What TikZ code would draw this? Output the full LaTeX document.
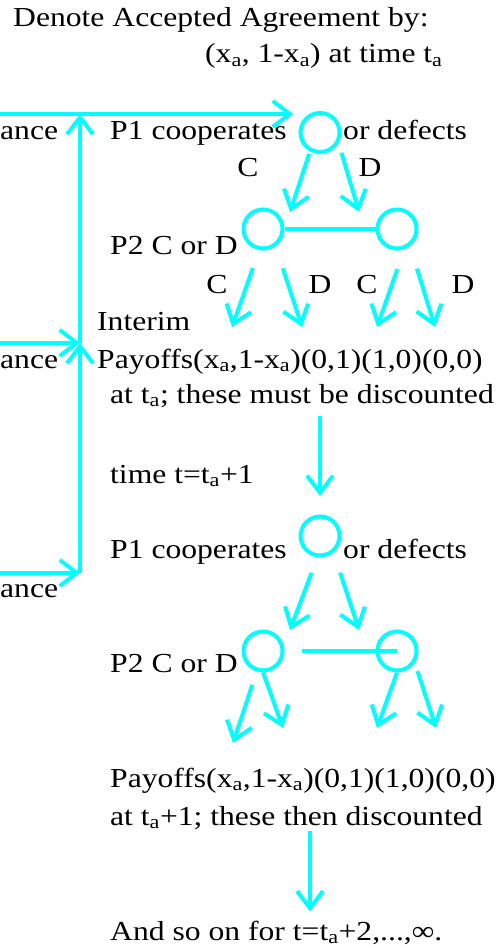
\documentclass[tikz,border=0pt]{standalone}
\usepackage{fontspec}
\setmainfont{Liberation Serif}[FakeStretch=1.15]
\usetikzlibrary{arrows.meta, positioning}
\definecolor{flowCyan}{RGB}{0,255,255}

\begin{document}
\begin{tikzpicture}[x=1pt, y=-1pt,
    pnode/.style={circle, draw=flowCyan, line width=4pt, minimum size=39pt, inner sep=0pt},
    arr/.style={-{Straight Barb[length=17pt, width=26pt]}, line width=4pt, flowCyan},
    lnk/.style={line width=4pt, flowCyan},
    txt/.style={anchor=base west, inner sep=0pt, font=\fontsize{27.5}{33}\selectfont},
    lbl/.style={anchor=base, inner sep=0pt, font=\fontsize{27.5}{33}\selectfont},
]
\useasboundingbox (0,0) rectangle (502,949);

% ========== HEADING ==========
\node[txt] (title) at (13,27) {Denote Accepted Agreement by:};
\node[txt] (agree) at (205,63) {(x\textsubscript{a}, 1-x\textsubscript{a}) at time t\textsubscript{a}};

% ========== LEFT FEEDS (cut off at the edge) ==========
\node[txt] (accA) at (0,140) {ance};
\node[txt] (accB) at (0,368) {ance};
\node[txt] (accC) at (0,597) {ance};
\coordinate (accAin) at (0,114);
\coordinate (accBin) at (0,343);
\coordinate (accCin) at (0,573);
\coordinate (jTop) at (80,114);
\coordinate (jMid) at (80,343);
\coordinate (jBot) at (80,573);
\coordinate (p1in) at (293,114);

\draw[arr] (accAin) -- (p1in);
\draw[arr] (accBin) -- (jMid);
\draw[arr] (accCin) -- (jBot);
\draw[arr] (jBot) -- (jMid);
\draw[arr] (jMid) -- (jTop);

% ========== PERIOD t_a: P1 ==========
\node[pnode] (p1a) at (320,132.5) {};
\node[txt] (coopA) at (110,140) {P1 cooperates};
\node[txt] (defA) at (343,140) {or defects};
\coordinate (p1aC) at (290,212);
\coordinate (p1aD) at (359,212);
\draw[arr, shorten <=2.5pt] (p1a.242) -- (p1aC);
\draw[arr, shorten <=10pt] (p1a.330) -- (p1aD);
\node[lbl] (cA) at (248,177) {C};
\node[lbl] (dA) at (370,177) {D};

% ========== PERIOD t_a: P2 ==========
\node[pnode] (p2aL) at (263,229) {};
\node[pnode] (p2aR) at (397,229) {};
\draw[lnk] (p2aL) -- (p2aR);
\node[txt] (p2txtA) at (110,255) {P2 C or D};
\coordinate (outA1) at (232,327);
\coordinate (outA2) at (302,327);
\coordinate (outA3) at (377,327);
\coordinate (outA4) at (435,327);
\draw[arr, shorten <=19pt] (p2aL.260) -- (outA1);
\draw[arr, shorten <=23pt] (p2aL.306) -- (outA2);
\draw[arr, shorten <=21pt] (p2aR.290) -- (outA3);
\draw[arr, shorten <=23.5pt] (p2aR.307) -- (outA4);
\node[lbl] (cA1) at (217,293) {C};
\node[lbl] (dA1) at (320,293) {D};
\node[lbl] (cA2) at (367,293) {C};
\node[lbl] (dA2) at (463,293) {D};

\node[txt] (interim) at (97,330) {Interim};
\node[txt] (payA) at (97,368) {Payoffs(x\textsubscript{a},1-x\textsubscript{a})(0,1)(1,0)(0,0)};
\node[txt] (mustA) at (110,403) {at t\textsubscript{a}; these must be discounted};

% ========== PERIOD t_a+1 ==========
\node[txt] (timeB) at (110,483) {time t=t\textsubscript{a}+1};
\node[pnode] (p1b) at (320,536) {};
\draw[arr, shorten <=9pt, shorten >=18.5pt] (mustA.south -| p1b) -- (p1b.north);
\node[txt] (coopB) at (110,558) {P1 cooperates};
\node[txt] (defB) at (343,558) {or defects};
\coordinate (p1bC) at (290,630);
\coordinate (p1bD) at (359,630);
\draw[arr, shorten <=16.5pt] (p1b.263) -- (p1bC);
\draw[arr, shorten <=21pt] (p1b.309) -- (p1bD);

\node[pnode] (p2bL) at (263,651) {};
\node[pnode] (p2bR) at (397,651) {};
\draw[lnk] ([xshift=17pt]p2bL.east) -- (p2bR.center);
\node[txt] (p2txtB) at (110,672) {P2 C or D};
\coordinate (outB1) at (233,743);
\coordinate (outB2) at (283,728);
\coordinate (outB3) at (377,728);
\coordinate (outB4) at (436,728);
\draw[arr, shorten <=14pt] (p2bL.253) -- (outB1);
\draw[arr] (p2bL.south) -- (outB2);
\draw[arr] (p2bR.south) -- (outB3);
\draw[arr, shorten <=8.5pt] (p2bR.326) -- (outB4);

\node[txt] (payB) at (110,787) {Payoffs(x\textsubscript{a},1-x\textsubscript{a})(0,1)(1,0)(0,0)};
\node[txt] (thenB) at (110,825) {at t\textsubscript{a}+1; these then discounted};

% ========== AND SO ON ==========
\node[txt] (andC) at (110,940) {And so on for t=t\textsubscript{a}+2,...,∞.};
\draw[arr, shorten <=2pt, shorten >=9pt] ([xshift=200pt]thenB.south west) -- ([xshift=200pt]andC.north west);

\end{tikzpicture}
\end{document}
